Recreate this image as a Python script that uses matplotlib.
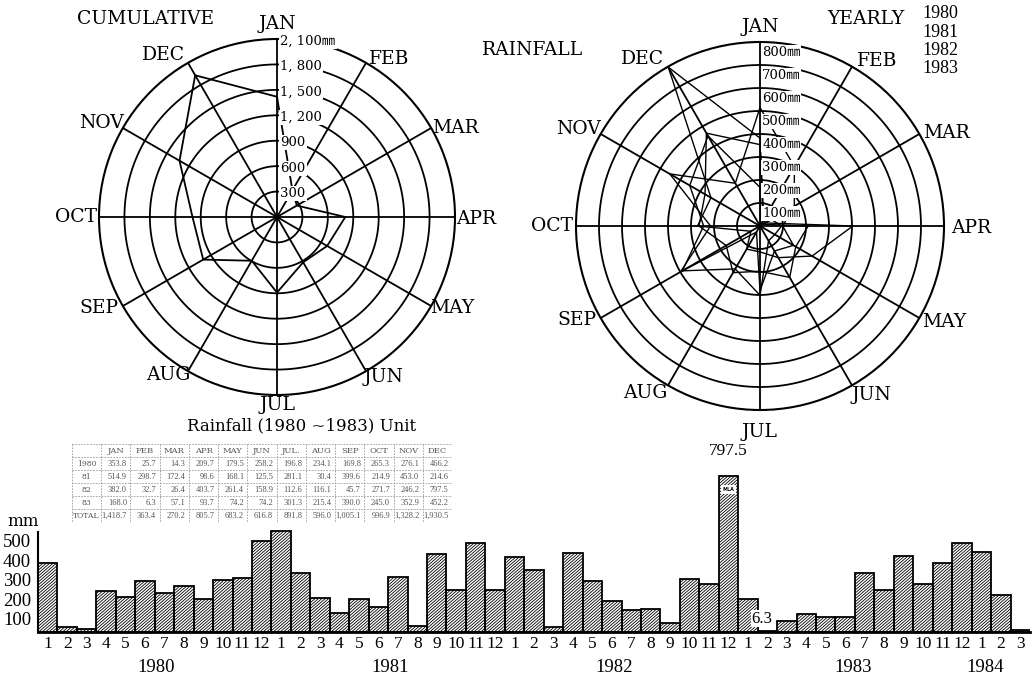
import numpy as np
import matplotlib
matplotlib.use("Agg")
import matplotlib.pyplot as plt
from matplotlib.collections import LineCollection
from matplotlib.transforms import IdentityTransform

# ---------------- data ----------------
months = ['JAN', 'FEB', 'MAR', 'APR', 'MAY', 'JUN', 'JUL', 'AUG', 'SEP', 'OCT', 'NOV', 'DEC']
table_header = ['JAN', 'FEB', 'MAR', 'APR', 'MAY', 'JUN', 'JUL.', 'AUG', 'SEP', 'OCT', 'NOV', 'DEC']
row_labels = ['1980', '81', '82', '83', 'TOTAL']
rain_1980 = [353.8, 25.7, 14.3, 209.7, 179.5, 258.2, 196.8, 234.1, 169.8, 265.3, 276.1, 466.2]
rain_1981 = [514.9, 298.7, 172.4, 98.6, 168.1, 125.5, 281.1, 30.4, 399.6, 214.9, 453.0, 214.6]
rain_1982 = [382.0, 32.7, 26.4, 403.7, 261.4, 158.9, 112.6, 116.1, 45.7, 271.7, 246.2, 797.5]
rain_1983 = [168.0, 6.3, 57.1, 93.7, 74.2, 74.2, 301.3, 215.4, 390.0, 245.0, 352.9, 452.2]
rain_total = [1418.7, 363.4, 270.2, 805.7, 683.2, 616.8, 891.8, 596.0, 1005.1, 996.9, 1328.2, 1930.5]
total_text = ['1,418.7', '363.4', '270.2', '805.7', '683.2', '616.8', '891.8', '596.0',
              '1,005.1', '996.9', '1,328.2', '1,930.5']

cum_rings = [300, 600, 900, 1200, 1500, 1800, 2100]
cum_ring_labels = ['300', '600', '900', '1, 200', '1, 500', '1, 800', '2, 100\u339c']
yearly_rings = [100, 200, 300, 400, 500, 600, 700, 800]
yearly_ring_labels = ['100\u339c', '200\u339c', '300\u339c', '400\u339c',
                      '500\u339c', '600\u339c', '700\u339c', '800\u339c']
legend_years = ['1980', '1981', '1982', '1983']

# monthly bars Jan 1980 .. Mar 1984 (as drawn)
bar_values = [353.8, 25.7, 14.3, 209.7, 179.5, 258.2, 196.8, 234.1, 169.8, 265.3, 276.1, 466.2,
              514.9, 298.7, 172.4, 98.6, 168.1, 125.5, 281.1, 30.4, 399.6, 214.9, 453.0, 214.6,
              382.0, 317.0, 26.4, 403.7, 261.4, 158.9, 112.6, 116.1, 45.7, 271.7, 246.2, 797.5,
              168.0, 6.3, 57.1, 93.7, 74.2, 74.2, 301.3, 215.4, 390.0, 245.0, 352.9, 452.2,
              406.0, 187.0, 8.0]
bar_month_labels = [str(m) for m in range(1, 13)] * 4 + ['1', '2', '3']
bar_yticks = [100, 200, 300, 400, 500]
bar_years = ['1980', '1981', '1982', '1983', '1984']
bar_year_pos = [6.1, 18.1, 29.6, 41.9, 48.7]

# ---------------- style ----------------
W, H = 1033, 681
SERIF = 'DejaVu Serif'
NUM = 'Liberation Serif'
MM = ['DejaVu Serif', 'Noto Sans CJK JP']
plt.rcParams['font.family'] = [SERIF, 'Noto Sans CJK JP']

fig = plt.figure(figsize=(W / 100, H / 100), dpi=100)
fig.patch.set_facecolor('white')


def rect(x0, y0, x1, y1):
    return [x0 / W, 1 - y1 / H, (x1 - x0) / W, (y1 - y0) / H]


label_dtheta = [0, 5.5, 3.5, 0.5, -2.5, -3.5, 0, 4.5, 3, 0, -2, -5]
theta = np.deg2rad(np.arange(12) * 30.0)
circ = np.linspace(0, 2 * np.pi, 400)


def polar_frame(ax, rings, rmax, rfac):
    ax.set_theta_zero_location('N')
    ax.set_theta_direction(-1)
    ax.set_ylim(0, rmax)
    ax.set_xticks([])
    ax.set_yticks([])
    ax.grid(False)
    ax.spines['polar'].set_linewidth(1.5)
    ax.spines['polar'].set_color('black')
    for r in rings[:-1]:
        ax.plot(circ, np.full_like(circ, r), color='black', lw=1.3, zorder=1)
    for th in theta:
        ax.plot([th, th], [0, rmax], color='black', lw=1.3, zorder=1)
    for i, m in enumerate(months):
        ax.text(theta[i] + np.deg2rad(label_dtheta[i]), rmax * rfac[i], m,
                ha='center', va='center', fontsize=13.5, family=SERIF, clip_on=False)


# ---------------- left: cumulative ----------------
axL = fig.add_axes(rect(277 - 178, 217 - 178, 277 + 178, 217 + 178), projection='polar')
polar_frame(axL, cum_rings, 2100,
            [1.085, 1.09, 1.12, 1.12, 1.11, 1.08, 1.055, 1.08, 1.12, 1.13, 1.12, 1.11])
tc = np.append(theta, theta[0])
axL.plot(tc, rain_total + rain_total[:1], color='black', lw=1.3, zorder=3)
for r, lab in zip(cum_rings, cum_ring_labels):
    axL.annotate(lab, xy=(0, r), xytext=(2.5, -1.5), textcoords='offset points',
                 ha='left', va='center', fontsize=9.5, family=MM, zorder=5,
                 bbox=dict(boxstyle='square,pad=0.08', fc='white', ec='none'))

# ---------------- right: yearly ----------------
axR = fig.add_axes(rect(760 - 184, 226 - 184, 760 + 184, 226 + 184), projection='polar')
polar_frame(axR, yearly_rings, 800,
            [1.08, 1.10, 1.13, 1.15, 1.13, 1.10, 1.12, 1.10, 1.12, 1.13, 1.12, 1.11])
for series in (rain_1980, rain_1981, rain_1982, rain_1983):
    axR.plot(tc, series + series[:1], color='black', lw=1.0, zorder=3)
for r, lab in zip(yearly_rings, yearly_ring_labels):
    axR.annotate(lab, xy=(0, r), xytext=(1.5, -7.5), textcoords='offset points',
                 ha='left', va='center', fontsize=9.5, family=MM, zorder=5,
                 bbox=dict(boxstyle='square,pad=0.05', fc='white', ec='none'))

# titles
fig.text(146 / W, 1 - 19 / H, 'CUMULATIVE', ha='center', va='center', fontsize=13.5, family=SERIF)
fig.text(533 / W, 1 - 50 / H, 'RAINFALL', ha='center', va='center', fontsize=13.5, family=SERIF)
fig.text(866 / W, 1 - 19 / H, 'YEARLY', ha='center', va='center', fontsize=13.5, family=SERIF)
for i, y in enumerate(legend_years):
    fig.text(940 / W, 1 - (14 + 18.3 * i) / H, y, ha='center', va='center', fontsize=13, family=NUM)

# caption
fig.text(302 / W, 1 - 426 / H, 'Rainfall (1980 ~1983) Unit', ha='center', va='center',
         fontsize=12, family=SERIF)

# ---------------- table ----------------
axT = fig.add_axes(rect(72, 443.5, 452, 521.5))
axT.set_xlim(0, 13)
axT.set_ylim(6, 0)
axT.axis('off')
grid_kw = dict(color='#9a9a9a', lw=0.6, ls=(0, (2, 1.5)))
for k in range(14):
    axT.plot([k, k], [0, 6], **grid_kw)
for k in range(7):
    axT.plot([0, 13], [k, k], **grid_kw)
tcol = '#555555'
for j, h in enumerate(table_header):
    axT.text(j + 1.5, 0.55, h, ha='center', va='center', fontsize=6, color=tcol, family=SERIF)
rows = [rain_1980, rain_1981, rain_1982, rain_1983]
for i, lab in enumerate(row_labels):
    axT.text(0.5, i + 1.55, lab, ha='center', va='center', fontsize=5.5, color=tcol, family=SERIF)
for i, row in enumerate(rows):
    for j, v in enumerate(row):
        axT.text(j + 1.88, i + 1.55, f'{v:.1f}', ha='right', va='center', fontsize=6,
                 color=tcol, family=NUM)
for j, s in enumerate(total_text):
    axT.text(j + 1.88, 5.55, s, ha='right', va='center', fontsize=6, color=tcol, family=NUM)

# ---------------- bar chart ----------------
axB = fig.add_axes(rect(38, 455.6, 1030, 632))
xs = np.arange(len(bar_values))
bars = axB.bar(xs, bar_values, width=1.0, align='edge', facecolor='white', edgecolor='none',
               linewidth=0, zorder=2)
axB.bar(xs, bar_values, width=1.0, align='edge', facecolor='none', edgecolor='black',
        linewidth=1.3, zorder=4)
axB.set_xlim(0, len(bar_values))
axB.set_ylim(0, 900)

# diagonal hatching drawn as display-space lines clipped to each bar
bb = axB.bbox
hh = bb.y1 - bb.y0
offs = np.arange(bb.x0 - hh - 10, bb.x1 + 10, 3.4)
hatch_segs = [[(c, bb.y0), (c + hh * 1.15, bb.y1)] for c in offs]
for b in bars:
    lc = LineCollection(hatch_segs, colors='black', linewidths=0.6,
                        transform=IdentityTransform(), zorder=3)
    axB.add_collection(lc, autolim=False)
    lc.set_clip_path(b)

for s in ('top', 'right'):
    axB.spines[s].set_visible(False)
axB.spines['left'].set_bounds(0, 510)
axB.spines['left'].set_linewidth(1.5)
axB.spines['bottom'].set_linewidth(2.0)
axB.spines['bottom'].set_zorder(5)
axB.set_yticks(bar_yticks)
axB.set_yticklabels([str(v) for v in bar_yticks], family=NUM, fontsize=13.5)
axB.tick_params(axis='y', length=0, pad=5)
for lbl in axB.get_yticklabels():
    lbl.set_va('top')
axB.set_xticks(xs + 0.5)
axB.set_xticklabels(bar_month_labels, family=NUM, fontsize=12.5)
axB.tick_params(axis='x', length=0, pad=3)
axB.patch.set_alpha(0)
for yl, p in zip(bar_years, bar_year_pos):
    axB.text(p, -0.20, yl, transform=axB.get_xaxis_transform(), ha='center', va='center',
             fontsize=13.5, family=NUM)
fig.text(23 / W, 1 - 521 / H, 'mm', ha='center', va='center', fontsize=12, family=SERIF)

# annotations
imax = int(np.argmax(bar_values))
axB.annotate(f'{bar_values[imax]:.1f}', xy=(imax + 0.5, bar_values[imax]), xytext=(0, 12),
             textcoords='offset points', ha='center', va='bottom', fontsize=12.5, family=NUM)
axB.annotate('MLA', xy=(imax + 0.5, bar_values[imax]), xytext=(0, -10),
             textcoords='offset points', ha='center', va='center', fontsize=3.5, weight='bold',
             family='DejaVu Sans',
             bbox=dict(boxstyle='square,pad=0.4', fc='white', ec='none'), zorder=6)
imin = int(np.argmin(bar_values))
axB.annotate(f'{bar_values[imin]:.1f}', xy=(imin + 0.5, bar_values[imin]), xytext=(-4, 3),
             textcoords='offset points', ha='center', va='bottom', fontsize=12, family=NUM,
             bbox=dict(boxstyle='square,pad=0.05', fc='white', ec='none'), zorder=6)

fig.savefig('out.png', dpi=100, facecolor='white')
